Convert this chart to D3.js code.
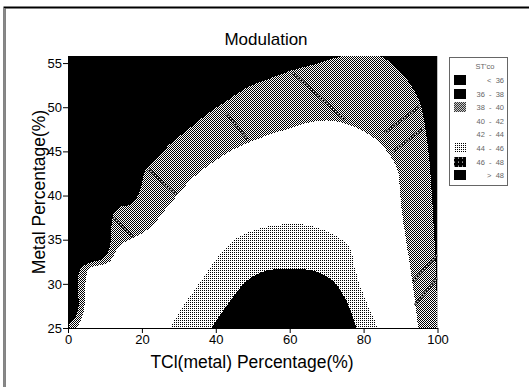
<!DOCTYPE html>
<html lang="en">
  <head>
    <meta charset="UTF-8" />
    <title>Modulation</title>
    <script src="https://d3js.org/d3.v7.min.js"></script>
    <style>
      body { margin: 0; background: #fff; }
    </style>
  </head>
  <body>
    <svg width="529" height="387"></svg>

    <script>
      // tick values
      var xTicks = [0, 20, 40, 60, 80, 100];
      var yTicks = [25, 30, 35, 40, 45, 50, 55];

      // contour boundaries, [TCl %, metal %]
      // edge between the black (< 38) area and the grey 38-40 band
      var edge38 = [[0, 25], [0, 25.2], [1.8, 26.1], [2.7, 26.9], [3.2, 31.6], [5, 32.2], [6.8, 32.5],
        [9.5, 32.9], [11.3, 34.1], [12.2, 37.8], [14, 38.7], [17.1, 39], [19.4, 40.5], [21.2, 43.1],
        [23, 43.7], [27.5, 45.8], [32, 47.3], [37.5, 49.2], [42.9, 50.7], [48.3, 52.2], [53.7, 53.1],
        [60, 54.1], [66.3, 54.8], [74.5, 55.8], [81.7, 56.1], [86.2, 55.4], [90.7, 53.7], [94.8, 51],
        [96.6, 48], [97.9, 43.5], [98.8, 37.8], [99.5, 32.2], [100, 25]];
      // edge between the grey band and the white 40-44 area
      var edge40 = [[2.3, 25], [4.1, 26.5], [5, 31], [5.9, 31.8], [9.5, 32.2], [11.3, 32.5], [13.5, 34.1],
        [14.9, 34.6], [17.6, 35.2], [22.1, 36.3], [27.5, 39], [33.8, 42], [38.4, 43.5], [44.7, 45.2],
        [51.9, 46.5], [59.1, 47.5], [64.5, 48.2], [70, 48.5], [74.5, 48.2], [79, 47.5], [83.5, 46.3],
        [87.1, 44.6], [89.4, 42.7], [89.8, 40.5], [90.7, 37.1], [92.5, 32.2], [93.9, 28], [94.8, 25]];
      // edge of the dotted 44-46 area
      var edge44 = [[27.5, 25], [32, 28], [36.6, 30.7], [41.1, 33.3], [45.6, 35.2], [51.9, 36.3],
        [60.9, 36.8], [66.3, 36.5], [72.7, 35.4], [76.3, 34.1], [77.6, 31.8], [79.9, 28.8], [83.9, 25]];
      // edge of the black 46-48 core
      var edge46 = [[38.8, 25], [43.8, 28], [48.3, 30.3], [53.7, 31.5], [60.9, 31.7], [67.2, 31.4],
        [71.8, 30.3], [75.4, 28], [78.1, 25]];

      // thin hatched seams inside the grey band
      var seams = [
        [[21.7, 43.0], [29.3, 40.1]],
        [[12.5, 37.5], [17.5, 35.3]],
        [[42.9, 49.3], [48.7, 46.3]],
        [[60.9, 53.9], [74.9, 48.6]],
        [[95.2, 50.1], [85.7, 47.1]],
        [[96.1, 47.6], [88, 45]],
        [[100, 33.3], [93.4, 30.3]],
        [[100, 30.7], [93.9, 27.6]]
      ];

      // legend
      var legendTitle = "ST'co";
      var legendLabels = ["<  36", "36  -  38", "38  -  40", "40  -  42", "42  -  44", "44  -  46", "46  -  48", ">  48"];
      var legendFills = ["#000", "#000", "url(#checker)", "none", "none", "url(#dots)", "url(#blackdots)", "#000"];

      var svg = d3.select("svg");

      var x = d3.scaleLinear().domain([0, 100]).range([68, 437.5]);
      var y = d3.scaleLinear().domain([25, 55.8]).range([328, 56]);

      // fill patterns
      var defs = svg.append("defs");
      var checker = defs.append("pattern").attr("id", "checker")
        .attr("patternUnits", "userSpaceOnUse").attr("width", 2).attr("height", 2);
      checker.append("rect").attr("width", 2).attr("height", 2).attr("fill", "#fff");
      checker.append("rect").attr("width", 1).attr("height", 1).attr("fill", "#000");
      checker.append("rect").attr("x", 1).attr("y", 1).attr("width", 1).attr("height", 1).attr("fill", "#000");

      var dots = defs.append("pattern").attr("id", "dots")
        .attr("patternUnits", "userSpaceOnUse").attr("width", 2).attr("height", 2);
      dots.append("rect").attr("width", 2).attr("height", 2).attr("fill", "#fff");
      dots.append("rect").attr("width", 1).attr("height", 1).attr("fill", "#000");

      var blackdots = defs.append("pattern").attr("id", "blackdots")
        .attr("patternUnits", "userSpaceOnUse").attr("width", 4).attr("height", 4);
      blackdots.append("rect").attr("width", 4).attr("height", 4).attr("fill", "#000");
      blackdots.append("rect").attr("x", 1).attr("y", 1).attr("width", 1).attr("height", 1).attr("fill", "#fff");

      defs.append("clipPath").attr("id", "plotclip")
        .append("rect")
        .attr("x", x(0)).attr("y", y(55.8))
        .attr("width", x(100) - x(0)).attr("height", y(25) - y(55.8));

      // outer frame
      svg.append("path")
        .attr("d", "M4.5,387V7.5H529")
        .attr("fill", "none").attr("stroke", "#000").attr("stroke-width", 2);
      svg.append("line")
        .attr("x1", 4.5).attr("x2", 4.5).attr("y1", 8).attr("y2", 387)
        .attr("stroke", "#888").attr("stroke-width", 2);

      // title
      svg.append("text")
        .attr("x", 266).attr("y", 45)
        .attr("text-anchor", "middle")
        .style("font-family", "Liberation Sans, Arial, sans-serif")
        .style("font-size", "17px")
        .text("Modulation");

      // contour regions, from the outside in
      var plot = svg.append("g").attr("clip-path", "url(#plotclip)");
      plot.append("rect")
        .attr("x", x(0)).attr("y", y(55.8))
        .attr("width", x(100) - x(0)).attr("height", y(25) - y(55.8))
        .attr("fill", "#000");

      var line = d3.line()
        .x(function (d) { return x(d[0]); })
        .y(function (d) { return y(d[1]); })
        .curve(d3.curveCatmullRom.alpha(0.5));

      var regions = [
        { edge: edge38, fill: "url(#checker)" },
        { edge: edge40, fill: "#fff" },
        { edge: edge44, fill: "url(#dots)" },
        { edge: edge46, fill: "#000" }
      ];
      plot.selectAll("path.region")
        .data(regions)
        .enter()
        .append("path")
        .attr("class", "region")
        .attr("d", function (d) { return line(d.edge) + "Z"; })
        .attr("fill", function (d) { return d.fill; })
        .attr("shape-rendering", "crispEdges");

      var seamLine = d3.line()
        .x(function (d) { return x(d[0]); })
        .y(function (d) { return y(d[1]); });
      plot.selectAll("path.seam")
        .data(seams)
        .enter()
        .append("path")
        .attr("class", "seam")
        .attr("d", seamLine)
        .attr("stroke", "#000").attr("stroke-width", 2.5).attr("fill", "none");
      plot.selectAll("path.seamw")
        .data(seams)
        .enter()
        .append("path")
        .attr("class", "seamw")
        .attr("d", seamLine)
        .attr("stroke", "#fff").attr("stroke-width", 1.2)
        .attr("stroke-dasharray", "1.5,1.5").attr("fill", "none");

      // axes
      var tickFont = "Liberation Sans Narrow, Arial Narrow, sans-serif";
      var xAxis = svg.append("g")
        .attr("transform", "translate(0," + y(25) + ")")
        .call(d3.axisBottom(x).tickValues(xTicks).tickSize(5).tickSizeOuter(0).tickPadding(2));
      var yAxis = svg.append("g")
        .attr("transform", "translate(" + x(0) + ",0)")
        .call(d3.axisLeft(y).tickValues(yTicks).tickSize(5).tickSizeOuter(0).tickPadding(1));
      [xAxis, yAxis].forEach(function (g) {
        g.select(".domain").attr("stroke", "#000");
        g.selectAll("text")
          .style("font-family", tickFont)
          .style("font-size", "13px")
          .attr("fill", "#000");
      });

      svg.append("text")
        .attr("x", 252).attr("y", 368)
        .attr("text-anchor", "middle")
        .style("font-family", "Liberation Sans, Arial, sans-serif")
        .style("font-size", "17.5px")
        .text("TCl(metal) Percentage(%)");

      svg.append("text")
        .attr("transform", "translate(45,192) rotate(-90)")
        .attr("text-anchor", "middle")
        .style("font-family", "Liberation Sans, Arial, sans-serif")
        .style("font-size", "17.5px")
        .text("Metal Percentage(%)");

      // legend box
      var legend = svg.append("g").attr("transform", "translate(449,57)");
      legend.append("rect")
        .attr("x", 0.5).attr("y", 0.5).attr("width", 58).attr("height", 128)
        .attr("fill", "#fff").attr("stroke", "#666");
      legend.append("text")
        .attr("x", 36).attr("y", 12)
        .attr("text-anchor", "middle")
        .style("font-family", "Liberation Sans, Arial, sans-serif")
        .style("font-size", "7.5px")
        .attr("fill", "#666")
        .text(legendTitle);
      var rows = legend.selectAll("g.row")
        .data(legendLabels)
        .enter()
        .append("g")
        .attr("class", "row")
        .attr("transform", function (d, i) { return "translate(0," + (18 + i * 13.6) + ")"; });
      rows.append("rect")
        .attr("x", 5).attr("y", 0).attr("width", 12).attr("height", 10)
        .attr("fill", function (d, i) { return legendFills[i]; })
        .attr("shape-rendering", "crispEdges");
      rows.append("text")
        .attr("x", 55).attr("y", 8)
        .attr("text-anchor", "end")
        .style("font-family", "Liberation Sans, Arial, sans-serif")
        .style("font-size", "7.5px")
        .style("white-space", "pre")
        .attr("fill", "#666")
        .text(function (d) { return d; });
    </script>
  </body>
</html>
